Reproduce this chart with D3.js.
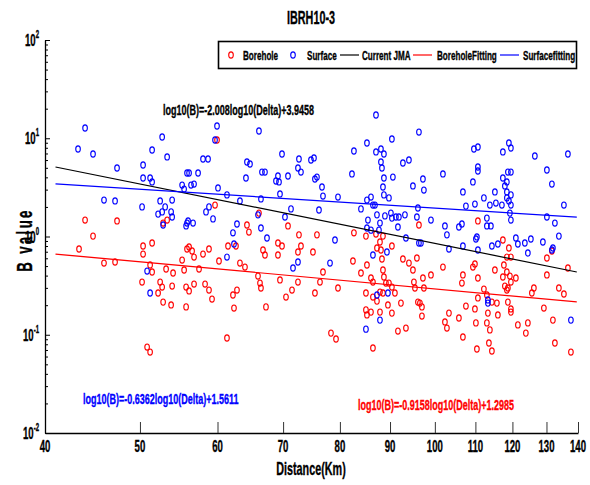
<!DOCTYPE html>
<html>
<head>
<meta charset="utf-8">
<script src="https://cdn.jsdelivr.net/npm/d3@7"></script>
<style>
  html, body { margin: 0; padding: 0; background: #fff; }
  svg text { font-family: "Liberation Sans", Arial, Helvetica, sans-serif; font-weight: bold; }
</style>
</head>
<body>
<div id="chart"></div>
<script>
// borehole (red circles)
const boreholeDist = [
  43.95, 47.38, 44.78, 43.33, 45.95, 47.16, 50.37, 50.37, 51.45, 52.80, 53.30, 59.65, 59.93,
  51.21, 51.45, 53.17, 54.05, 55.21, 55.85, 56.12, 56.52, 56.78, 55.47, 57.45, 57.99, 58.81, 60.21,
  50.25, 52.43, 52.68, 52.18, 53.93, 55.73, 56.12, 56.78, 58.27, 58.81, 59.23, 52.80, 53.80, 55.73,
  50.85, 51.21,
  64.30, 64.60, 66.14, 70.81, 72.66, 75.80, 69.16, 69.82, 73.00, 72.49, 75.09, 61.50, 62.66, 66.77,
  67.08, 69.16, 63.25, 64.00, 65.99, 66.30, 66.45, 69.49, 72.49, 71.48, 70.48, 62.81, 62.22, 62.37,
  67.24, 75.44, 76.34, 76.88, 79.64, 82.49, 82.68, 61.35, 79.27, 78.34, 86.46,
  96.33, 85.05, 87.08, 88.52, 87.28, 88.10, 90.40, 87.90, 84.06, 85.25, 88.31, 88.52, 92.77, 94.09,
  94.98, 95.87, 99.09, 97.24, 86.06, 86.46, 88.72, 89.14, 89.77, 90.40, 87.90, 88.52, 91.04, 85.05,
  95.20, 95.43, 97.46, 86.46, 87.28, 89.56, 92.34, 96.10, 96.55, 97.01, 85.05, 86.06, 87.90, 90.40,
  85.25, 97.01, 91.69, 93.43,
  110.65, 117.34, 119.01, 118.45, 119.57, 117.62, 115.16, 109.36, 109.88, 101.92, 106.82, 106.57,
  110.65, 117.34, 118.45, 119.29, 120.98, 119.57, 117.89, 118.45, 118.73, 112.22, 113.01, 110.65,
  114.35, 115.70, 118.73, 119.57, 119.57, 115.97, 113.28, 109.88, 107.58, 103.37, 105.82, 102.40,
  102.88, 110.13, 113.01, 113.81, 121.55, 124.44, 123.85, 131.98, 129.21, 125.61, 126.21, 133.85,
  135.44, 130.13, 130.13, 131.67, 136.72, 106.82, 110.39, 113.55, 114.35, 132.60, 137.69
];
const boreholeB = [
  1.47, 1.44, 1.01, 0.746, 0.537, 0.55, 0.80, 0.663, 0.859, 1.37, 1.47, 2.09, 9.60,
  0.513, 0.435, 0.467, 0.425, 0.576, 0.746, 0.782, 0.712, 0.618, 0.456, 0.467, 0.663, 0.746, 0.563,
  0.344, 0.344, 0.306, 0.266, 0.313, 0.306, 0.279, 0.328, 0.328, 0.285, 0.231, 0.215, 0.201, 0.192,
  0.075, 0.0667,
  1.31, 1.11, 1.73, 1.28, 1.04, 1.04, 0.859, 0.80, 0.80, 0.695, 0.695, 0.80, 0.80, 0.729,
  0.648, 0.648, 0.537, 0.489, 0.396, 0.336, 0.299, 0.361, 0.344, 0.285, 0.242, 0.285, 0.254, 0.187,
  0.192, 0.266, 0.344, 0.435, 0.299, 0.563, 1.09, 0.0927, 0.0905, 0.104, 0.0733,
  1.31, 1.01, 1.06, 1.01, 0.764, 0.729, 0.80, 0.879, 0.425, 0.513, 0.59, 0.456, 0.59, 0.537,
  0.456, 0.604, 0.406, 0.378, 0.378, 0.344, 0.387, 0.336, 0.336, 0.306, 0.272, 0.266, 0.266, 0.266,
  0.344, 0.299, 0.299, 0.242, 0.22, 0.201, 0.21, 0.215, 0.21, 0.192, 0.179, 0.170, 0.170, 0.166,
  0.159, 0.155, 0.109, 0.117,
  1.44, 0.921, 0.764, 0.618, 0.618, 0.513, 0.456, 0.489, 0.525, 0.489, 0.406, 0.336,
  0.378, 0.387, 0.435, 0.396, 0.378, 0.344, 0.313, 0.285, 0.299, 0.292, 0.254, 0.237,
  0.215, 0.21, 0.215, 0.183, 0.170, 0.159, 0.166, 0.183, 0.196, 0.166, 0.148, 0.135,
  0.117, 0.132, 0.132, 0.112, 0.126, 0.132, 0.104, 0.141, 0.187, 0.266, 0.299, 0.299,
  0.26, 0.406, 0.604, 0.712, 0.478, 0.0949, 0.0716, 0.0824, 0.0683, 0.0824, 0.0667
];

// surface (blue circles)
const surfaceDist = [
  43.95, 43.23, 44.78, 51.45, 52.68, 53.30, 50.37, 47.38, 59.93, 59.65, 57.99, 58.68,
  50.37, 51.21, 51.45, 55.85, 56.12, 57.32, 55.21, 55.47, 56.38, 56.78, 60.07,
  45.95, 47.16, 50.25, 52.43, 53.05, 53.93, 52.18, 52.68, 53.80, 53.93, 52.80, 55.85, 55.99,
  55.73, 56.65, 58.40, 58.81, 59.37, 50.85, 51.21,
  66.14, 64.30, 64.76, 69.82, 72.66, 74.74, 75.27, 66.61, 67.08, 72.49, 73.00, 70.81, 69.16,
  68.84, 69.33, 64.15, 75.44, 75.80, 61.35, 63.25, 66.45, 69.49, 76.70, 76.88, 79.64, 71.31,
  76.16, 65.99, 66.45, 70.31, 67.40, 62.81, 62.22, 62.37, 61.35, 72.49, 71.65, 78.16, 79.08,
  87.08, 85.25, 82.68, 87.08, 88.10, 88.72, 90.40, 96.33,
  88.10, 88.31, 92.77, 94.09, 82.30, 88.72, 90.61, 88.52, 94.98, 97.24, 97.46, 88.72, 89.77,
  85.25, 86.06, 86.46, 86.87, 84.06, 96.10, 87.28, 88.93, 90.19, 90.40, 91.26, 91.90, 93.21,
  95.87, 99.09, 85.45, 87.90, 85.25, 86.06, 87.69, 91.69, 93.43, 96.33, 96.78, 86.46, 89.35,
  87.28, 89.56, 87.90, 85.05,
  109.62, 110.65, 117.34, 119.01, 119.57, 126.50, 136.72, 101.92, 109.36, 110.65, 110.65,
  117.34, 118.73, 119.57, 118.45, 117.89, 118.45, 119.57, 118.45, 119.01, 115.16, 112.22,
  106.82, 107.58, 109.88, 113.81, 115.43, 117.07, 119.57, 119.29, 119.57, 130.13, 131.67,
  135.44, 130.13, 132.60, 133.85, 102.40, 102.88, 105.82, 106.57, 113.01, 113.01, 114.08,
  110.39, 110.13, 110.65, 103.37, 106.82, 114.35, 115.97, 120.98, 121.55, 123.56, 125.32,
  124.44, 128.91, 131.67, 131.98, 113.28, 113.28, 137.69
];
const surfaceB = [
  12.72, 7.77, 6.91, 7.59, 10.30, 6.45, 5.34, 4.98, 13.33, 9.60, 6.15, 6.15,
  3.94, 3.94, 3.59, 4.43, 4.43, 4.43, 3.34, 3.04, 3.34, 3.42, 3.12,
  2.35, 2.30, 2.00, 2.30, 2.00, 2.35, 1.69, 1.78, 1.78, 1.58, 1.31, 1.37, 1.44,
  1.28, 1.37, 1.78, 2.00, 1.51, 0.445, 0.266,
  11.85, 5.73, 5.47, 6.91, 6.15, 6.01, 6.30, 4.53, 4.53, 4.98, 4.53, 4.13, 4.13,
  3.67, 3.59, 3.94, 3.85, 4.03, 2.65, 2.30, 2.41, 2.71, 3.19, 2.58, 2.52, 1.91,
  1.86, 1.66, 1.22, 1.58, 0.965, 1.34, 1.09, 0.839, 0.618, 0.55, 0.478, 0.537, 0.921,
  17.25, 8.95, 7.42, 7.25, 7.77, 6.91, 9.83, 11.57,
  5.73, 4.98, 5.60, 6.01, 4.33, 3.94, 4.03, 3.19, 3.27, 3.85, 2.97, 2.65, 2.47,
  2.35, 2.52, 2.09, 2.09, 1.91, 1.95, 1.66, 1.62, 1.73, 1.54, 1.58, 1.58, 1.66,
  1.58, 1.47, 1.47, 1.37, 1.22, 1.16, 1.16, 1.25, 0.965, 0.859, 0.859, 0.648, 0.695,
  0.254, 0.266, 0.141, 0.114,
  7.77, 8.15, 7.25, 8.95, 7.96, 6.60, 6.91, 4.33, 3.59, 5.10, 4.64,
  3.94, 4.53, 4.53, 3.59, 3.27, 2.84, 2.65, 2.47, 2.30, 2.84, 2.47,
  2.84, 2.04, 2.14, 2.09, 2.19, 2.09, 2.09, 1.73, 1.47, 4.75, 3.42,
  2.09, 1.58, 1.37, 1.01, 1.28, 1.04, 1.25, 1.34, 1.54, 1.28, 1.28,
  0.99, 0.943, 0.729, 0.746, 0.80, 0.80, 0.839, 0.965, 0.839, 0.859, 0.943,
  0.679, 0.879, 0.729, 0.764, 0.226, 0.21, 0.141
];

// fitted relations printed on the chart: log10(B) = slope*log10(Delta) + intercept
const fitNames = ['Current JMA', 'BoreholeFitting', 'Surfacefitting'];
const fitSlopes = [-2.008, -0.9158, -0.6362];
const fitIntercepts = [3.9458, 1.2985, 1.5611];
const fitRange = [41, 139.6];

const xTicks = [40, 50, 60, 70, 80, 90, 100, 110, 120, 130, 140];
const yDecades = [-2, -1, 0, 1, 2];
const legendLabels = ['Borehole', 'Surface', 'Current JMA', 'BoreholeFitting', 'Surfacefitting'];

const width = 590, height = 485;
const SX = 0.6; // narrow, tall lettering of the original

const svg = d3.select('#chart').append('svg')
  .attr('width', width)
  .attr('height', height);

const x = d3.scaleLog().domain([40, 140]).range([45, 578]);
const y = d3.scaleLog().domain([0.01, 100]).range([433, 40]);

function label(g, px, py, str, size, anchor, fill, rot) {
  const t = g.append('text')
    .attr('transform', `translate(${px},${py})` + (rot ? ` rotate(${rot})` : '') + ` scale(${SX},1)`)
    .attr('font-size', size)
    .attr('text-anchor', anchor || 'start')
    .attr('fill', fill || '#000')
    .attr('stroke', fill || '#000')
    .attr('stroke-width', 0.35);
  if (str !== null) t.text(str);
  return t;
}

// title
label(svg, 311, 24, 'IBRH10-3', 18, 'middle');

// bottom axis
const xAxis = svg.append('g')
  .attr('transform', 'translate(0,433)')
  .call(d3.axisBottom(x).tickValues(xTicks).tickSize(-11).tickSizeOuter(0).tickFormat(''));
xAxis.select('.domain').attr('stroke', '#000').attr('stroke-width', 1.3);
xAxis.selectAll('.tick line').attr('stroke', '#333').attr('stroke-width', 1);

xTicks.forEach(v => label(svg, x(v), 452, String(v), 16, 'middle'));
label(svg, 311, 475, 'Distance(Km)', 18, 'middle');

// left axis, minor and major ticks
const minorTicks = y.ticks().filter(v => Math.abs(Math.log10(v) - Math.round(Math.log10(v))) > 1e-6);
const yMinor = svg.append('g')
  .attr('transform', 'translate(45,0)')
  .call(d3.axisLeft(y).tickValues(minorTicks).tickSize(-3).tickSizeOuter(0).tickFormat(''));
yMinor.select('.domain').attr('stroke', '#000').attr('stroke-width', 1.3);
yMinor.selectAll('.tick line').attr('stroke', '#000');

const yMajor = svg.append('g')
  .attr('transform', 'translate(45,0)')
  .call(d3.axisLeft(y).tickValues(yDecades.map(e => Math.pow(10, e))).tickSize(-5).tickSizeOuter(0).tickFormat(''));
yMajor.select('.domain').remove();
yMajor.selectAll('.tick line').attr('stroke', '#000');

yDecades.forEach(e => {
  const t = label(svg, 39, y(Math.pow(10, e)) + 6, null, 16, 'end');
  t.append('tspan').text('10');
  t.append('tspan').attr('font-size', 10).attr('dy', -8).text(String(e));
});

// y label
label(svg, 32, 240, 'B value', 22, 'middle', '#000', -90)
  .attr('letter-spacing', 4);

// scatter
const plot = svg.append('g');
function drawPoints(dist, vals, color) {
  plot.selectAll(null)
    .data(d3.zip(dist, vals))
    .enter().append('ellipse')
    .attr('cx', d => x(d[0]))
    .attr('cy', d => y(d[1]))
    .attr('rx', 2.3)
    .attr('ry', 3.1)
    .attr('fill', 'none')
    .attr('stroke', color)
    .attr('stroke-width', 1.1);
}
drawPoints(boreholeDist, boreholeB, '#ff0000');
drawPoints(surfaceDist, surfaceB, '#0000ff');

// fit lines
const fitColors = ['#000000', '#ff0000', '#0000ff'];
const line = d3.line().x(d => x(d[0])).y(d => y(d[1]));
fitNames.forEach((name, i) => {
  const pts = fitRange.map(D => [D, Math.pow(10, fitSlopes[i] * Math.log10(D) + fitIntercepts[i])]);
  plot.append('path')
    .attr('d', line(pts))
    .attr('fill', 'none')
    .attr('stroke', fitColors[i])
    .attr('stroke-width', 1.2);
});

// equations
function eqText(i) {
  const s = fitSlopes[i] < 0 ? '-' : '';
  return `log10(B)=${s}${Math.abs(fitSlopes[i])}log10(Delta)+${fitIntercepts[i]}`;
}
label(svg, 163, 115, eqText(0), 15, 'start', '#000');
label(svg, 83, 404, eqText(2), 15, 'start', '#0000ff');
label(svg, 358, 410, eqText(1), 15, 'start', '#ff0000');

// legend
const leg = svg.append('g');
leg.append('rect')
  .attr('x', 218.5).attr('y', 41.5).attr('width', 358).attr('height', 27)
  .attr('fill', '#fff').attr('stroke', '#000').attr('stroke-width', 1.6);

const legendItems = [
  {kind: 'o', color: '#ff0000', mx: 231, tx: 243},
  {kind: 'o', color: '#0000ff', mx: 293, tx: 307},
  {kind: '-', color: '#000000', mx: 340, tx: 362},
  {kind: '-', color: '#ff0000', mx: 413, tx: 437},
  {kind: '-', color: '#0000ff', mx: 500, tx: 523}
];
legendItems.forEach((it, i) => {
  if (it.kind === 'o') {
    leg.append('ellipse').attr('cx', it.mx).attr('cy', 55).attr('rx', 2.3).attr('ry', 3.1)
      .attr('fill', 'none').attr('stroke', it.color).attr('stroke-width', 1.1);
  } else {
    leg.append('line').attr('x1', it.mx).attr('x2', it.mx + 19).attr('y1', 55).attr('y2', 55)
      .attr('stroke', it.color).attr('stroke-width', 1.2);
  }
  label(leg, it.tx, 60, legendLabels[i], 13.5, 'start');
});
</script>
</body>
</html>
